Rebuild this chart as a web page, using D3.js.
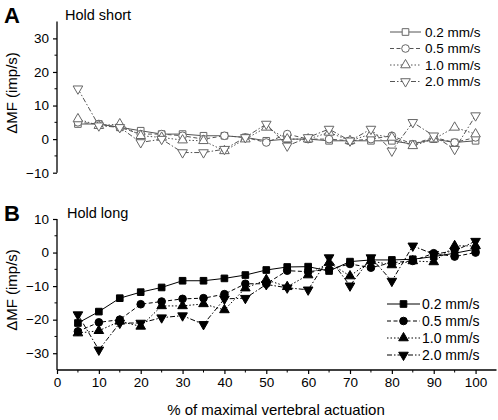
<!DOCTYPE html>
<html><head><meta charset="utf-8">
<script src="https://cdn.jsdelivr.net/npm/d3@7"></script>
<style>body{margin:0;background:#fff}svg{font-family:"Liberation Sans",Arial,sans-serif}</style>
</head><body><svg id="c" width="498" height="420"></svg>
<script>
const xs = [5,10,15,20,25,30,35,40,45,50,55,60,65,70,75,80,85,90,95,100];
const seriesNames = ["0.2 mm/s","0.5 mm/s","1.0 mm/s","2.0 mm/s"];
// Panel A: Hold short
const shortA02 = [4.5,4.5,3.5,2.5,1.5,1.5,1,1,0.5,-0.5,0,0,-0.5,-0.5,-0.5,-0.5,-1.5,0,-1,-0.5];
const shortA05 = [5,4.5,3.5,1.5,1.5,1,0,1,0.5,-1,1.5,0,0,-0.5,0,1,-1.5,0.5,-1,0.5];
const shortA10 = [6,4,4.5,1,0.5,-0.3,-0.5,-3.5,0,3.5,0,0,2,-0.5,1.5,0.5,-2,0,3.5,1.5];
const shortA20 = [15,4,3.5,-1,0,-4,-4,-3,0.5,4.5,-2,0.5,3,-0.5,3,-3.5,5,1,-3,7];
// Panel B: Hold long
const longB02 = [-21,-17.6,-13.6,-11.8,-10.4,-8.4,-8.4,-7.7,-6.7,-5.2,-4.3,-4.2,-5.5,-2.7,-2.2,-2.2,-2,-1.2,-0.2,1];
const longB05 = [-23.5,-20.8,-20,-15.4,-14.6,-13.8,-13.6,-12.4,-9.3,-9.3,-5.4,-5.7,-5,-3.4,-4.5,-3,-2.5,-0.2,-1.2,0];
const longB10 = [-24,-23.3,-20.5,-22,-15.9,-15.9,-15.3,-17.1,-10.6,-8.1,-10.2,-6.7,-3,-7,-2.5,-3.7,-2.5,-2.8,2,2];
const longB20 = [-18.5,-29,-21,-21,-19.4,-18.8,-21.4,-13.8,-13.6,-9.5,-10.5,-11.1,-1.5,-9.9,-1.5,-8.5,2,-0.5,0.5,3.4];
const yTicksA = [-10,0,10,20,30];
const yTicksB = [-30,-20,-10,0,10];
const xTicks = [0,10,20,30,40,50,60,70,80,90,100];

const svg = d3.select("#c");
const x = d3.scaleLinear().domain([0,105]).range([57,496.5]);
const yA = d3.scaleLinear().domain([-10,35]).range([172.7,21.6]);
const yB = d3.scaleLinear().domain([-35,10]).range([370,219]);

const dashes = [null,"4,2.5","1.5,2","5,2,1.5,2"];
const symbols = [d3.symbolSquare, d3.symbolCircle, d3.symbolTriangle, d3.symbolTriangle];
const symSize = [44,46,40,40];

function axisY(y, ticks, minorDomain){
  const g = svg.append("g").attr("transform","translate(57,0)");
  g.call(d3.axisLeft(y).tickValues(ticks).tickSize(4).tickPadding(4).tickFormat(d3.format("d")));
  g.select(".domain").attr("stroke","#000").attr("stroke-width",1.3).attr("d",`M0,${y.range()[0]}V${y.range()[1]}`);
  g.selectAll(".tick line").attr("stroke-width",1.2);
  g.selectAll(".tick text").attr("font-size",13.5).attr("font-family","Liberation Sans, Arial, sans-serif").attr("fill","#000");
  const minor = d3.range(minorDomain[0], minorDomain[1]+0.1, 10);
  g.selectAll(".mn").data(minor).enter().append("line")
    .attr("x1",0).attr("x2",-2.5).attr("y1",d=>y(d)).attr("y2",d=>y(d)).attr("stroke","#000").attr("stroke-width",1);
}
axisY(yA, yTicksA, [-5,25]);
axisY(yB, yTicksB, [-25,5]);
const gx = svg.append("g").attr("transform","translate(0,370)");
gx.call(d3.axisBottom(x).tickValues(xTicks).tickSize(4).tickPadding(3).tickFormat(d3.format("d")));
gx.select(".domain").attr("stroke-width",1.3).attr("d",`M57,0H496.5`);
gx.selectAll(".tick line").attr("stroke-width",1.2);
gx.selectAll(".tick text").attr("font-size",13.5).attr("font-family","Liberation Sans, Arial, sans-serif").attr("fill","#000");
gx.selectAll(".mnx").data(d3.range(5,101,10)).enter().append("line")
  .attr("x1",d=>x(d)).attr("x2",d=>x(d)).attr("y1",0).attr("y2",2.5).attr("stroke","#000");

function panel(y, data, filled){
  data.forEach((vals,i)=>{
    const line = d3.line().x((d,j)=>x(xs[j])).y(d=>y(d));
    svg.append("path").attr("d",line(vals)).attr("fill","none")
      .attr("stroke", filled ? "#000" : "#555").attr("stroke-width",1)
      .attr("stroke-dasharray",dashes[i]);
  });
  data.forEach((vals,i)=>{
    const sym = d3.symbol().type(symbols[i]).size(symSize[i]);
    svg.selectAll(null).data(vals).enter().append("path")
      .attr("d",sym)
      .attr("transform",(d,j)=>`translate(${x(xs[j])},${y(d)})${i===3?" rotate(180)":""}`)
      .attr("fill", filled ? "#000" : "#fff")
      .attr("stroke", filled ? "#000" : "#666").attr("stroke-width",1);
  });
}
panel(yA,[shortA02,shortA05,shortA10,shortA20],false);
panel(yB,[longB02,longB05,longB10,longB20],true);

function legend(x0,x1,xm,xt,rows,fs,filled){
  seriesNames.forEach((n,i)=>{
    const yy = rows[i];
    svg.append("line").attr("x1",x0).attr("x2",x1).attr("y1",yy).attr("y2",yy)
      .attr("stroke",filled?"#000":"#555").attr("stroke-width",1).attr("stroke-dasharray",dashes[i]);
    svg.append("path").attr("d",d3.symbol().type(symbols[i]).size(symSize[i])())
      .attr("transform",`translate(${xm},${yy})${i===3?" rotate(180)":""}`)
      .attr("fill",filled?"#000":"#fff").attr("stroke",filled?"#000":"#666");
    svg.append("text").attr("x",xt).attr("y",yy+4.7).attr("font-size",fs).text(n);
  });
}
legend(390,421,405.5,425,[32,48.5,65,81.5],13.5,false);
legend(387,420,403.5,422,[304,321,338,355],14,true);

svg.append("text").attr("x",4).attr("y",23).attr("font-size",22).attr("font-weight","bold").text("A");
svg.append("text").attr("x",4).attr("y",221).attr("font-size",22).attr("font-weight","bold").text("B");
svg.append("text").attr("x",65).attr("y",20).attr("font-size",14.5).text("Hold short");
svg.append("text").attr("x",67).attr("y",218).attr("font-size",14.5).text("Hold long");
svg.append("text").attr("transform","translate(17,93) rotate(-90)").attr("text-anchor","middle").attr("font-size",15).text("ΔMF (imp/s)");
svg.append("text").attr("transform","translate(17,290) rotate(-90)").attr("text-anchor","middle").attr("font-size",15).text("ΔMF (imp/s)");
svg.append("text").attr("x",276).attr("y",415).attr("text-anchor","middle").attr("font-size",15).text("% of maximal vertebral actuation");
</script></body></html>
